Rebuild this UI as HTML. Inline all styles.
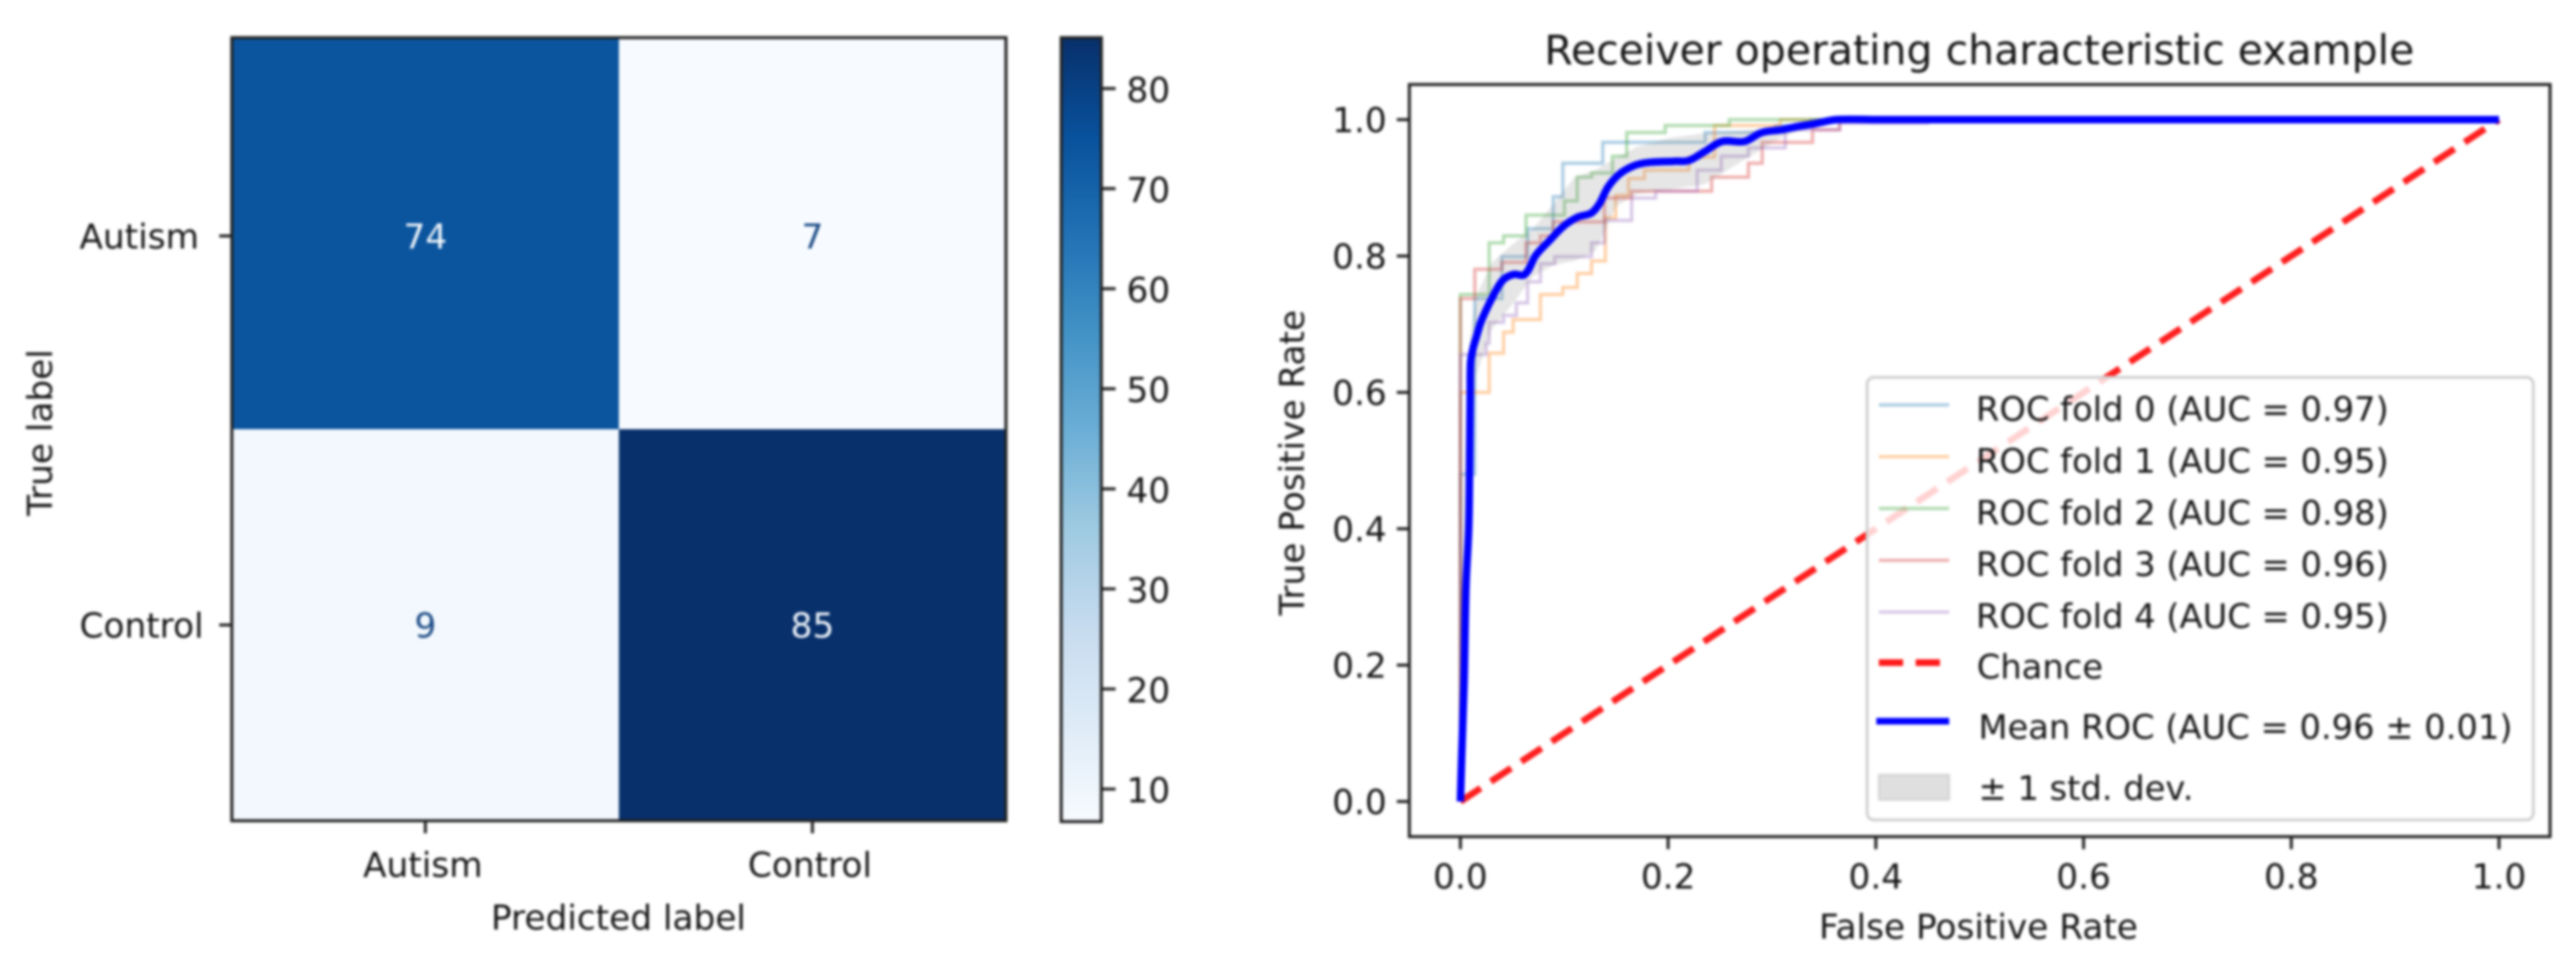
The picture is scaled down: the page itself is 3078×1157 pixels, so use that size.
<!DOCTYPE html>
<html lang="en">
<head>
<meta charset="utf-8">
<title>Confusion matrix and ROC curves</title>
<style>
html,body{margin:0;padding:0;background:#fff;width:3078px;height:1157px;overflow:hidden}
svg{display:block;filter:blur(1.5px)}
text{font-family:"DejaVu Sans","Liberation Sans",sans-serif;fill:#141414;font-size:41px}
</style>
</head>
<body>
<svg id="fig" xmlns="http://www.w3.org/2000/svg" width="3078" height="1157" viewBox="0 0 3078 1157">
  <defs>
    <linearGradient id="blues" x1="0" y1="1" x2="0" y2="0">
      <stop offset="0" stop-color="#f7fbff"/><stop offset=".125" stop-color="#deebf7"/>
      <stop offset=".25" stop-color="#c6dbef"/><stop offset=".375" stop-color="#9ecae1"/>
      <stop offset=".5" stop-color="#6baed6"/><stop offset=".625" stop-color="#4292c6"/>
      <stop offset=".75" stop-color="#2171b5"/><stop offset=".875" stop-color="#08519c"/>
      <stop offset="1" stop-color="#08306b"/>
    </linearGradient>
  </defs>
  <g id="cm"></g>
  <g id="roc"></g>
  <g id="legend">
    <rect x="2231" y="451" width="796" height="529" rx="8" fill="#fff" fill-opacity=".8" stroke="#d0d0d0" stroke-width="3.5"/>
  </g>
</svg>
<script>
// ---------- confusion matrix data ----------
const classLabels = ['Autism', 'Control'];
const row0Counts = [74, 7];
const row1Counts = [9, 85];
const colorbarTicks = [10, 20, 30, 40, 50, 60, 70, 80];

// ---------- ROC data ----------
const fprTickLabels = ['0.0', '0.2', '0.4', '0.6', '0.8', '1.0'];
const tprTickLabels = ['0.0', '0.2', '0.4', '0.6', '0.8', '1.0'];
const chanceFpr = [0, 1];
const chanceTpr = [0, 1];

// fold curves: at each FPR value the curve jumps up to the paired TPR value
const fold0Fpr = [0, 0.0139, 0.040, 0.0647, 0.0894, 0.0986, 0.1371, 0.2357, 0.3035, 0.3374, 1];
const fold0Tpr = [0.48, 0.7375, 0.799, 0.840, 0.887, 0.9361, 0.9668, 0.9811, 0.9914, 1, 1];
const fold1Fpr = [0, 0.0277, 0.0416, 0.0508, 0.077, 0.0986, 0.1125, 0.1263, 0.1396, 0.1495, 0.1618, 0.1772, 0.22, 0.2447, 0.308, 1];
const fold1Tpr = [0.60, 0.6576, 0.6883, 0.7068, 0.7436, 0.7539, 0.7743, 0.7928, 0.8562, 0.889, 0.9136, 0.9259, 0.945, 0.9914, 1, 1];
const fold2Fpr = [0, 0.0277, 0.0416, 0.0632, 0.1002, 0.1125, 0.1263, 0.1464, 0.1602, 0.1972, 0.2589, 1];
const fold2Tpr = [0.7436, 0.8194, 0.8296, 0.860, 0.8808, 0.9156, 0.9218, 0.9463, 0.9811, 0.9914, 1, 1];
const fold3Fpr = [0, 0.0139, 0.040, 0.0632, 0.077, 0.0894, 0.1387, 0.1649, 0.2419, 0.2773, 0.2906, 0.339, 0.365, 1];
const fold3Tpr = [0.7375, 0.7805, 0.7907, 0.8194, 0.8296, 0.8501, 0.8849, 0.8951, 0.9156, 0.9361, 0.9668, 0.9852, 1, 1];
const fold4Fpr = [0, 0.0247, 0.0277, 0.0416, 0.0539, 0.0647, 0.077, 0.0909, 0.1263, 0.1387, 0.1649, 0.188, 0.228, 0.2512, 0.2773, 0.3128, 0.3652, 0.45, 1];
const fold4Tpr = [0.6556, 0.672, 0.7027, 0.7129, 0.7313, 0.7621, 0.7887, 0.799, 0.8194, 0.8521, 0.8849, 0.8951, 0.9259, 0.9463, 0.9586, 0.9852, 0.995, 1, 1];

const meanFpr = [0, 0.0015, 0.0035, 0.0054, 0.008, 0.0088, 0.0094, 0.0098, 0.0121, 0.0161, 0.020, 0.030, 0.0405, 0.051, 0.062, 0.0726, 0.086, 0.0995, 0.113, 0.126, 0.134, 0.142, 0.153, 0.1665, 0.180, 0.207, 0.220, 0.236, 0.252, 0.2736, 0.290, 0.3087, 0.325, 0.341, 0.362, 0.40, 1];
const meanTpr = [0, 0.08, 0.17, 0.3166, 0.40, 0.48, 0.60, 0.644, 0.664, 0.685, 0.704, 0.737, 0.764, 0.773, 0.773, 0.801, 0.823, 0.844, 0.857, 0.863, 0.877, 0.901, 0.920, 0.932, 0.937, 0.939, 0.940, 0.954, 0.968, 0.968, 0.981, 0.985, 0.990, 0.994, 1, 1, 1];

const bandFpr = [0, 0.003, 0.006, 0.009, 0.015, 0.03, 0.05, 0.07, 0.09, 0.11, 0.13, 0.15, 0.17, 0.2, 0.235, 0.27, 0.31, 0.36, 1];
const bandUpper = [0, 0.45, 0.60, 0.68, 0.74, 0.79, 0.817, 0.84, 0.877, 0.916, 0.926, 0.944, 0.96, 0.973, 0.98, 0.983, 0.99, 1, 1];
const bandLower = [0, 0.15, 0.30, 0.45, 0.623, 0.692, 0.729, 0.77, 0.787, 0.793, 0.807, 0.873, 0.891, 0.897, 0.905, 0.938, 0.975, 0.998, 1];

// ---------- helpers ----------
const NS = 'http://www.w3.org/2000/svg';
function make(tag, attrs, parent, txt) {
  const e = document.createElementNS(NS, tag);
  for (const k in attrs) e.setAttribute(k, attrs[k]);
  if (txt !== undefined) e.textContent = txt;
  parent.appendChild(e);
  return e;
}
let el;
const cm = document.getElementById('cm');
const roc = document.getElementById('roc');
const legend = document.getElementById('legend');
const AXIS = '#222';
const AXW = 3.6;

// ---------- confusion matrix ----------
const matrix = [row0Counts, row1Counts];
const cmLeft = 277, cmTop = 45, cellW = 462.5, cellH = 468;
const allCounts = row0Counts.concat(row1Counts);
const vMin = Math.min.apply(null, allCounts);
const vMax = Math.max.apply(null, allCounts);
const blueStops = [[247,251,255],[222,235,247],[198,219,239],[158,202,225],[107,174,214],[66,146,198],[33,113,181],[8,81,156],[8,48,107]];
function blues(v) {
  const t = Math.min(1, Math.max(0, (v - vMin) / (vMax - vMin))) * 8;
  const i = Math.min(7, Math.floor(t)), f = t - i;
  const c = blueStops[i].map((a, j) => Math.round(a + (blueStops[i + 1][j] - a) * f));
  return 'rgb(' + c.join(',') + ')';
}
function cellX(c) { return cmLeft + c * cellW; }
function cellY(r) { return cmTop + r * cellH; }
function rowCenter(r) { return cmTop + 237 + r * 465; }
function cbY(v) { return 979 - (v - vMin) / (vMax - vMin) * 933; }

matrix.forEach(function (row, r) {
  row.forEach(function (val, c) {
    el = make('rect', {x: cellX(c), y: cellY(r), width: cellW, height: cellH, fill: blues(val)}, cm);
    
    
    const light = (val - vMin) / (vMax - vMin) > 0.5;
    el = make('text', {x: cellX(c) + cellW / 2, y: rowCenter(r) + 15, 'text-anchor': 'middle', style: 'fill:' + (light ? '#f2f7fc' : '#1c4a85')}, cm, String(val));
    
    
  });
});
el = make('rect', {x: cmLeft, y: cmTop, width: 2 * cellW, height: 2 * cellH, fill: 'none', stroke: AXIS, 'stroke-width': AXW}, cm);



classLabels.forEach(function (lab, i) {
  const cx = cellX(i) + cellW / 2;
  const cy = rowCenter(i);
  el = make('line', {x1: cx, x2: cx, y1: cmTop + 2 * cellH, y2: cmTop + 2 * cellH + 15, stroke: AXIS, 'stroke-width': AXW}, cm);
  
  
  el = make('text', {x: cx - 3, y: 1048, 'text-anchor': 'middle'}, cm, lab);
  
  
  el = make('line', {x1: cmLeft - 15, x2: cmLeft, y1: cy, y2: cy, stroke: AXIS, 'stroke-width': AXW}, cm);
  
  
  el = make('text', {x: 95, y: cy + 15}, cm, lab);
  
  
});
el = make('text', {x: 739, y: 1111, 'text-anchor': 'middle'}, cm, 'Predicted label');


el = make('text', {x: 62, y: 517, 'text-anchor': 'middle', transform: 'rotate(-90 62 517)'}, cm, 'True label');



el = make('rect', {x: 1268, y: cmTop, width: 48, height: 937, fill: 'url(#blues)', stroke: AXIS, 'stroke-width': AXW}, cm);


colorbarTicks.forEach(function (t) {
  el = make('line', {x1: 1316, x2: 1333, y1: cbY(t), y2: cbY(t), stroke: AXIS, 'stroke-width': AXW}, cm);
  
  
  el = make('text', {x: 1346, y: cbY(t) + 16}, cm, String(t));
  
  
});

// ---------- ROC plot ----------
const rocLeft = 1684, rocRight = 3047, rocTop = 101, rocBottom = 1000;
function xScale(v) { return 1745 + v * 1241; }
function yScale(v) { return 958 - v * 815; }
function stepPath(xs, ys) {
  let d = 'M' + xScale(0) + ' ' + yScale(0);
  xs.forEach(function (x, i) {
    d += 'H' + xScale(x).toFixed(1) + 'V' + yScale(ys[i]).toFixed(1);
  });
  return d;
}
function linePath(xs, ys) {
  return xs.map(function (x, i) {
    return (i ? 'L' : 'M') + xScale(x).toFixed(1) + ' ' + yScale(ys[i]).toFixed(1);
  }).join('');
}
function smoothPath(xs, ys) {
  const px = xs.map(xScale), py = ys.map(yScale), n = px.length;
  let d = 'M' + px[0].toFixed(1) + ' ' + py[0].toFixed(1);
  for (let i = 0; i < n - 1; i++) {
    const a = Math.max(0, i - 1), b = Math.min(n - 1, i + 2);
    const len = Math.hypot(px[i + 1] - px[i], py[i + 1] - py[i]);
    const t0 = Math.hypot(px[i + 1] - px[a], py[i + 1] - py[a]) || 1;
    const t1 = Math.hypot(px[b] - px[i], py[b] - py[i]) || 1;
    const c1x = px[i] + (px[i + 1] - px[a]) / t0 * len / 3;
    const c1y = py[i] + (py[i + 1] - py[a]) / t0 * len / 3;
    const c2x = px[i + 1] - (px[b] - px[i]) / t1 * len / 3;
    const c2y = py[i + 1] - (py[b] - py[i]) / t1 * len / 3;
    d += 'C' + c1x.toFixed(1) + ' ' + c1y.toFixed(1) + ' ' + c2x.toFixed(1) + ' ' + c2y.toFixed(1) + ' ' + px[i + 1].toFixed(1) + ' ' + py[i + 1].toFixed(1);
  }
  return d;
}
const foldColors = ['#1f77b4', '#ff7f0e', '#2ca02c', '#d62728', '#9467bd'];
const foldFprs = [fold0Fpr, fold1Fpr, fold2Fpr, fold3Fpr, fold4Fpr];
const foldTprs = [fold0Tpr, fold1Tpr, fold2Tpr, fold3Tpr, fold4Tpr];

foldFprs.forEach(function (xs, i) {
  el = make('path', {d: stepPath(xs, foldTprs[i]), fill: 'none', stroke: foldColors[i], 'stroke-opacity': .36, 'stroke-width': 4}, roc);
  
  
});
el = make('path', {d: linePath(chanceFpr, chanceTpr), fill: 'none', stroke: '#ff0000', 'stroke-opacity': .88, 'stroke-width': 8, 'stroke-dasharray': '29 14.5'}, roc);


el = make('path', {d: linePath(bandFpr, bandUpper) + linePath(bandFpr.slice().reverse(), bandLower.slice().reverse()).replace('M', 'L') + 'Z', fill: '#808080', 'fill-opacity': .2}, roc);


el = make('path', {d: smoothPath(meanFpr, meanTpr), fill: 'none', stroke: '#0000ff', 'stroke-width': 9, 'stroke-linejoin': 'round'}, roc);



el = make('rect', {x: rocLeft, y: rocTop, width: rocRight - rocLeft, height: rocBottom - rocTop, fill: 'none', stroke: AXIS, 'stroke-width': AXW}, roc);



fprTickLabels.forEach(function (lab) {
  const px = xScale(parseFloat(lab));
  el = make('line', {x1: px, x2: px, y1: rocBottom, y2: rocBottom + 15, stroke: AXIS, 'stroke-width': AXW}, roc);
  
  
  el = make('text', {x: px, y: 1062, 'text-anchor': 'middle'}, roc, lab);
  
  
});
tprTickLabels.forEach(function (lab) {
  const py = yScale(parseFloat(lab));
  el = make('line', {x1: rocLeft - 15, x2: rocLeft, y1: py, y2: py, stroke: AXIS, 'stroke-width': AXW}, roc);
  
  
  el = make('text', {x: 1657, y: py + 15, 'text-anchor': 'end'}, roc, lab);
  
  
});
el = make('text', {x: 2364, y: 1122, 'text-anchor': 'middle'}, roc, 'False Positive Rate');


el = make('text', {x: 1558, y: 553, 'text-anchor': 'middle', transform: 'rotate(-90 1558 553)'}, roc, 'True Positive Rate');


el = make('text', {x: 2365, y: 77, 'text-anchor': 'middle', style: 'font-size:49px'}, roc, 'Receiver operating characteristic example');



// ---------- legend ----------
const foldAucLabels = ['ROC fold 0 (AUC = 0.97)', 'ROC fold 1 (AUC = 0.95)', 'ROC fold 2 (AUC = 0.98)', 'ROC fold 3 (AUC = 0.96)', 'ROC fold 4 (AUC = 0.95)'];
foldAucLabels.forEach(function (lab, i) {
  const ly = 484 + i * 61.9;
  el = make('line', {x1: 2245, x2: 2329, y1: ly, y2: ly, stroke: foldColors[i], 'stroke-opacity': .36, 'stroke-width': 4}, legend);
  
  
  el = make('text', {x: 2361, y: ly + 19, style: 'font-size:40.3px'}, legend, lab);
  
  
});
el = make('line', {x1: 2245, x2: 2329, y1: 792, y2: 792, stroke: '#ff0000', 'stroke-opacity': .9, 'stroke-width': 8, 'stroke-dasharray': '29 15'}, legend);


el = make('text', {x: 2362, y: 811, style: 'font-size:40.3px'}, legend, 'Chance');


el = make('line', {x1: 2242, x2: 2329, y1: 862, y2: 862, stroke: '#0000ff', 'stroke-width': 8}, legend);


el = make('text', {x: 2364, y: 883, style: 'font-size:40.3px'}, legend, 'Mean ROC (AUC = 0.96 \u00b1 0.01)');


el = make('rect', {x: 2245, y: 926, width: 84, height: 30, fill: '#808080', 'fill-opacity': .25, stroke: '#808080', 'stroke-opacity': .2, 'stroke-width': 3}, legend);


el = make('text', {x: 2364, y: 956, style: 'font-size:40.3px'}, legend, '\u00b1 1 std. dev.');


</script>
</body>
</html>
